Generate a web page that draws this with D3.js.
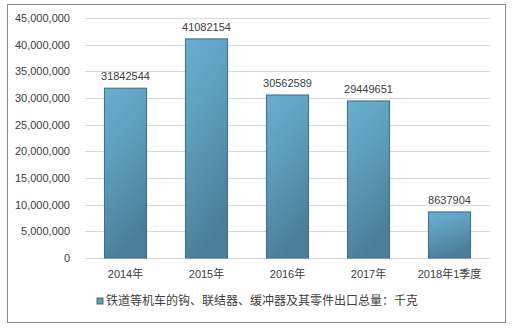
<!DOCTYPE html>
<html>
<head>
<meta charset="utf-8">
<script src="https://cdn.jsdelivr.net/npm/d3@7"></script>
<style>
  body { margin: 0; background: #fff; }
  text { font-family: "Liberation Sans", "Noto Sans CJK SC", sans-serif; fill: #404040; }
</style>
</head>
<body>
<div id="chart"></div>
<script>
// Data
const categories = ['2014年', '2015年', '2016年', '2017年', '2018年1季度']
const values = [31842544, 41082154, 30562589, 29449651, 8637904]
const yTicks = [0, 5000000, 10000000, 15000000, 20000000, 25000000, 30000000, 35000000, 40000000, 45000000]
const seriesName = '铁道等机车的钩、联结器、缓冲器及其零件出口总量：千克'

const dims = { width: 516, height: 332, left: 85, right: 490, top: 18, bottom: 258 }

const svg = d3.select('#chart')
  .append('svg')
  .attr('width', dims.width)
  .attr('height', dims.height)

const defs = svg.append('defs')
const grad = defs.append('linearGradient')
  .attr('id', 'barGrad')
  .attr('x1', 0).attr('y1', 0).attr('x2', 0.3).attr('y2', 1)
grad.append('stop').attr('offset', '0%').attr('stop-color', '#6aafcf')
grad.append('stop').attr('offset', '45%').attr('stop-color', '#5c9dbb')
grad.append('stop').attr('offset', '100%').attr('stop-color', '#4c7f97')

// outer frame
svg.append('rect')
  .attr('x', 7.5).attr('y', 4.5)
  .attr('width', 498).attr('height', 318)
  .attr('fill', '#fff')
  .attr('stroke', '#898989')

const xScale = d3.scaleBand()
  .domain(categories)
  .range([dims.left, dims.right])
  .paddingInner(0.48)
  .paddingOuter(0.24)

const yScale = d3.scaleLinear()
  .domain([0, 45000000])
  .range([dims.bottom, dims.top])

// gridlines
svg.append('g')
  .selectAll('line')
  .data(yTicks)
  .join('line')
  .attr('x1', dims.left)
  .attr('x2', dims.right)
  .attr('y1', d => Math.round(yScale(d)) + 0.5)
  .attr('y2', d => Math.round(yScale(d)) + 0.5)
  .attr('stroke', '#d9d9d9')

// y axis labels
const yAxis = d3.axisLeft(yScale)
  .tickValues(yTicks)
  .tickFormat(d3.format(','))
  .tickSize(0)
  .tickPadding(15)
const yG = svg.append('g')
  .attr('transform', `translate(${dims.left},0)`)
  .call(yAxis)
yG.select('.domain').remove()
yG.selectAll('text').style('font-size', '11px').attr('fill', '#404040')

// bars
svg.append('g')
  .selectAll('rect')
  .data(values)
  .join('rect')
  .attr('x', (d, i) => xScale(categories[i]))
  .attr('y', d => yScale(d))
  .attr('width', xScale.bandwidth())
  .attr('height', d => dims.bottom - yScale(d))
  .attr('fill', 'url(#barGrad)')
  .attr('stroke', '#3e6b80')
  .attr('stroke-width', 1)

// value labels
svg.append('g')
  .selectAll('text')
  .data(values)
  .join('text')
  .attr('x', (d, i) => xScale(categories[i]) + xScale.bandwidth() / 2)
  .attr('y', d => yScale(d) - 8)
  .attr('text-anchor', 'middle')
  .style('font-size', '11px')
  .text(d => d)

// x axis labels
const xAxis = d3.axisBottom(xScale).tickSize(0).tickPadding(12)
const xG = svg.append('g')
  .attr('transform', `translate(0,${dims.bottom})`)
  .call(xAxis)
xG.select('.domain').remove()
xG.selectAll('text').style('font-size', '11px').attr('fill', '#404040')

// legend
const legend = svg.append('g').attr('transform', 'translate(97,298)')
legend.append('rect')
  .attr('width', 6).attr('height', 6).attr('y', 0)
  .attr('fill', '#5c9dbb')
  .attr('stroke', '#3e6b80')
legend.append('text')
  .attr('x', 9)
  .attr('y', 3)
  .attr('dy', '0.35em')
  .style('font-size', '12px')
  .style('font-family', '"Noto Sans CJK SC", sans-serif')
  .text(seriesName)
</script>
</body>
</html>
